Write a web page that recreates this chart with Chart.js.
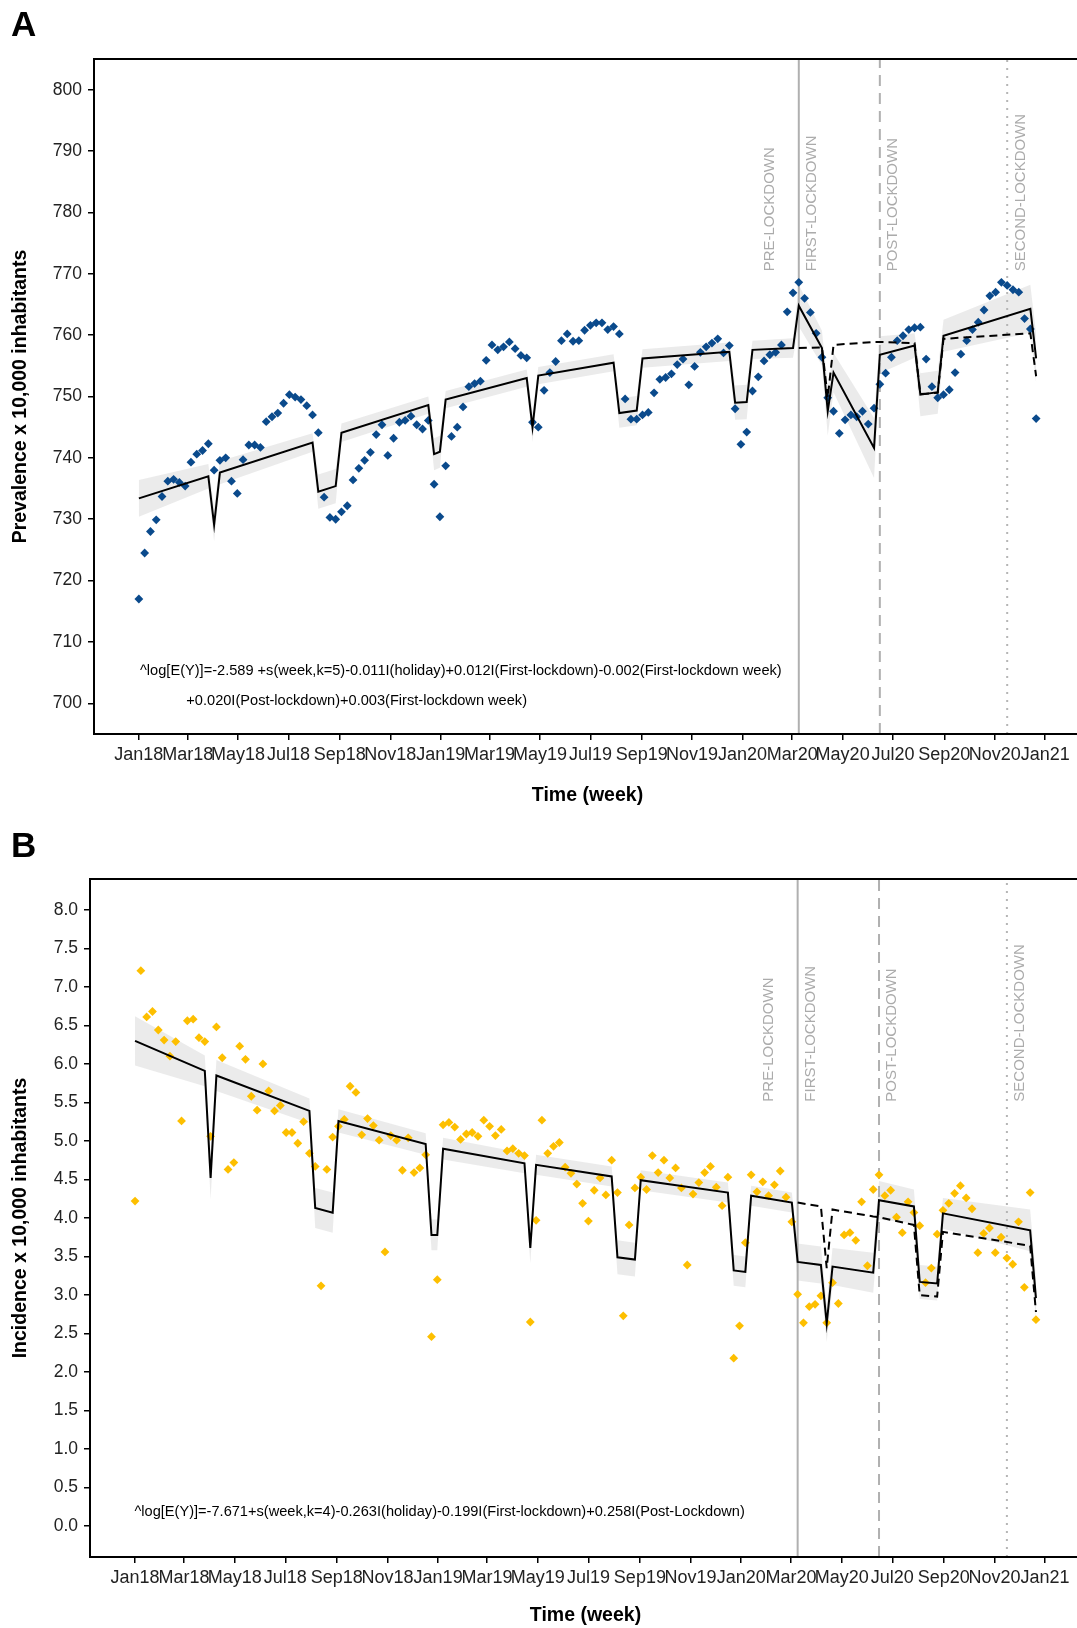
<!DOCTYPE html>
<html lang="en">
<head>
  <meta charset="UTF-8" />
  <title>Prevalence and incidence by week</title>
  <script src="https://cdn.jsdelivr.net/npm/chart.js"></script>
  <style>
    body {
      margin: 0;
      width: 1077px;
      height: 1628px;
      overflow: hidden;
      position: relative;
      background: #fff;
      font-family: "Liberation Sans", Arial, sans-serif;
    }
    canvas {
      position: absolute;
      left: 0;
      display: block;
    }
    #chartA { top: 0; }
    #chartB { top: 815px; }
    .tag {
      position: absolute;
      left: 11px;
      font-size: 35px;
      line-height: 35px;
      font-weight: bold;
    }
  </style>
</head>
<body>
  <canvas id="chartA" width="1100" height="815"></canvas>
  <canvas id="chartB" width="1100" height="813"></canvas>
  <div class="tag" style="top:6px">A</div>
  <div class="tag" style="top:827px">B</div>

  <script>
    // weekly observations, week 0 = first week of Jan 2018
    const prevalence = [
      717.0, 724.5, 728.0, 729.9, 733.7, 736.2, 736.5, 736.0, 735.4, 739.3,
      740.6, 741.2, 742.3, 738.0, 739.6, 740.0, 736.2, 734.2, 739.7, 742.1,
      742.1, 741.7, 745.9, 746.7, 747.3, 748.9, 750.3, 749.9, 749.5, 748.5,
      747.0, 744.1, 733.6, 730.3, 730.0, 731.2, 732.2, 736.4, 738.3, 739.6,
      740.9, 743.8, 745.4, 740.4, 743.2, 745.8, 746.1, 746.8, 745.4, 744.7,
      746.1, 735.7, 730.4, 738.7, 743.5, 745.0, 748.3, 751.6, 752.1, 752.5,
      755.9, 758.4, 757.6, 758.1, 758.9, 757.8, 756.7, 756.3, 745.8, 745.0,
      751.0, 753.9, 755.7, 759.1, 760.2, 759.0, 759.1, 760.8, 761.6, 762.0,
      762.0, 760.9, 761.4, 760.2, 749.6, 746.3, 746.3, 747.0, 747.4, 750.6,
      752.8, 753.1, 753.7, 755.2, 756.1, 751.9, 754.9, 757.2, 758.1, 758.7,
      759.4, 757.1, 758.3, 748.0, 742.2, 744.2, 750.9, 753.2, 755.8, 756.8,
      757.2, 758.4, 763.8, 766.9, 768.6, 766.0, 763.7, 760.3, 756.4, 749.8,
      747.6, 744.0, 746.2, 747.0, 746.7, 747.6, 745.5, 748.1, 752.0, 753.8,
      756.4, 759.1, 759.9, 760.9, 761.2, 761.3, 756.1, 751.6, 749.8, 750.3,
      751.1, 753.9, 756.9, 759.1, 760.9, 762.1, 764.1, 766.4, 767.0, 768.6,
      768.1, 767.4, 767.0, 762.7, 761.0, 746.4
    ];
    const incidence = [
      4.22, 7.21, 6.61, 6.68, 6.44, 6.31, 6.10, 6.29, 5.26, 6.56,
      6.58, 6.34, 6.29, 5.06, 6.48, 6.08, 4.63, 4.72, 6.23, 6.06,
      5.58, 5.40, 6.00, 5.65, 5.39, 5.46, 5.11, 5.11, 4.97, 5.25,
      4.84, 4.67, 3.12, 4.63, 5.05, 5.19, 5.28, 5.71, 5.63, 5.08,
      5.29, 5.20, 5.01, 3.56, 5.07, 5.01, 4.62, 5.04, 4.59, 4.65,
      4.82, 2.46, 3.20, 5.21, 5.24, 5.18, 5.02, 5.09, 5.11, 5.06,
      5.27, 5.19, 5.07, 5.15, 4.87, 4.90, 4.84, 4.81, 2.65, 3.97,
      5.27, 4.84, 4.93, 4.98, 4.66, 4.58, 4.44, 4.19, 3.96, 4.36,
      4.52, 4.30, 4.75, 4.33, 2.73, 3.91, 4.39, 4.53, 4.37, 4.81,
      4.59, 4.75, 4.52, 4.65, 4.39, 3.39, 4.31, 4.46, 4.59, 4.67,
      4.40, 4.16, 4.53, 2.18, 2.60, 3.68, 4.56, 4.34, 4.47, 4.29,
      4.43, 4.61, 4.27, 3.95, 3.01, 2.64, 2.85, 2.88, 2.99, 2.64,
      3.16, 2.89, 3.78, 3.81, 3.71, 4.21, 3.38, 4.37, 4.56, 4.29,
      4.36, 4.01, 3.81, 4.21, 4.07, 3.90, 3.16, 3.35, 3.79, 4.10,
      4.19, 4.32, 4.42, 4.26, 4.12, 3.55, 3.80, 3.87, 3.55, 3.75,
      3.48, 3.40, 3.95, 3.10, 4.33, 2.68
    ];

    // fitted model, read at the weeks where its slope changes
    const fitWeeks = [0, 12, 13, 14, 30, 31, 34, 35, 50, 51, 52, 53, 67, 68, 69, 82, 83, 86,
                      87, 102, 103, 105, 106, 113, 114, 118, 119, 120, 127, 128, 134, 135, 138, 139, 154, 155];
    const fitPrev = [733.4, 737.0, 729.1, 737.6, 742.5, 734.5, 735.4, 744.1, 748.6, 740.6, 741.0, 749.5,
                     753.0, 745.0, 753.4, 755.5, 747.3, 747.7, 756.2, 757.3, 749.0, 749.1, 757.6, 757.9,
                     764.8, 757.9, 747.6, 753.9, 741.6, 756.8, 758.3, 750.3, 750.7, 759.9, 764.3, 756.2];
    const bandPrev = [3.0, 2.0, 2.7, 1.9, 1.5, 2.8, 2.8, 1.5, 1.4, 2.6, 2.6, 1.4, 1.4, 2.4, 1.4, 1.4, 2.4, 2.4,
                      1.5, 1.5, 2.8, 2.8, 1.5, 1.6, 3.4, 2.8, 4.0, 3.2, 4.9, 3.0, 2.0, 3.5, 3.5, 2.6, 3.9, 4.0];
    const fitInc = [6.30, 5.91, 4.52, 5.85, 5.39, 4.13, 4.07, 5.26, 4.96, 3.78, 3.78, 4.90,
                    4.71, 3.61, 4.69, 4.54, 3.49, 3.46, 4.49, 4.33, 3.32, 3.30, 4.29, 4.20,
                    3.43, 3.39, 2.63, 3.37, 3.29, 4.23, 4.15, 3.17, 3.15, 4.06, 3.84, 2.96];
    const bandInc = [0.32, 0.20, 0.28, 0.20, 0.16, 0.26, 0.26, 0.15, 0.14, 0.20, 0.20, 0.14,
                     0.13, 0.20, 0.13, 0.13, 0.22, 0.22, 0.13, 0.13, 0.20, 0.20, 0.13, 0.13,
                     0.24, 0.24, 0.24, 0.24, 0.26, 0.25, 0.22, 0.22, 0.22, 0.20, 0.27, 0.27];

    // counterfactual (no lockdown) curve
    const cfWeeks = [114, 118, 119, 120, 127, 128, 134, 135, 138, 139, 154, 155];
    const cfPrev = [757.9, 758.0, 749.8, 758.4, 758.9, 758.9, 758.7, 750.4, 750.6, 759.4, 760.3, 753.3];
    const cfInc = [4.20, 4.15, 3.35, 4.11, 4.02, 4.01, 3.91, 3.00, 2.98, 3.82, 3.64, 2.78];

    const tickLabels = ['Jan18', 'Mar18', 'May18', 'Jul18', 'Sep18', 'Nov18', 'Jan19', 'Mar19', 'May19',
                        'Jul19', 'Sep19', 'Nov19', 'Jan20', 'Mar20', 'May20', 'Jul20', 'Sep20', 'Nov20', 'Jan21'];
    const tickMonths = [[2018, 0], [2018, 2], [2018, 4], [2018, 6], [2018, 8], [2018, 10],
                        [2019, 0], [2019, 2], [2019, 4], [2019, 6], [2019, 8], [2019, 10],
                        [2020, 0], [2020, 2], [2020, 4], [2020, 6], [2020, 8], [2020, 10], [2021, 0]];
    const yTicksPrev = [700, 710, 720, 730, 740, 750, 760, 770, 780, 790, 800];
    const yTicksInc = [0, 0.5, 1, 1.5, 2, 2.5, 3, 3.5, 4, 4.5, 5, 5.5, 6, 6.5, 7, 7.5, 8];

    const phaseWeeks = [114, 128, 150];
    const phaseLabels = ['PRE-LOCKDOWN', 'FIRST-LOCKDOWN', 'POST-LOCKDOWN', 'SECOND-LOCKDOWN'];
    const phaseLabelWeeks = [109, 116.3, 130.2, 152.3];

    const WEEK_MS = 7 * 24 * 3600 * 1000;
    const tickWeeks = tickMonths.map(([y, m]) => (Date.UTC(y, m, 1) - Date.UTC(2018, 0, 1)) / WEEK_MS);

    const FONT = '"Liberation Sans", Arial, sans-serif';

    const annotate = {
      id: 'annotate',
      afterDraw(chart, args, o) {
        const { ctx, chartArea: a, scales: { x, y } } = chart;
        ctx.save();
        ctx.strokeStyle = '#000';
        ctx.lineWidth = 2;
        ctx.strokeRect(a.left, a.top, a.right - a.left, a.bottom - a.top);

        ctx.fillStyle = '#ababab';
        ctx.font = '15px ' + FONT;
        ctx.textBaseline = 'middle';
        ctx.textAlign = 'left';
        phaseLabels.forEach((t, i) => {
          ctx.save();
          ctx.translate(x.getPixelForValue(phaseLabelWeeks[i]), y.getPixelForValue(o.labelY));
          ctx.rotate(-Math.PI / 2);
          ctx.fillText(t, 0, 0);
          ctx.restore();
        });

        ctx.fillStyle = '#000';
        ctx.font = '14.6px ' + FONT;
        o.formula.forEach(f => {
          ctx.fillText(f.text, x.getPixelForValue(f.x), y.getPixelForValue(f.y));
        });
        ctx.restore();
      }
    };

    function panel(id, p) {
      const pts = p.values.map((v, i) => ({ x: i, y: v }));
      const fit = fitWeeks.map((w, i) => ({ x: w, y: p.fit[i] }));
      const hi = fitWeeks.map((w, i) => ({ x: w, y: p.fit[i] + p.band[i] }));
      const lo = fitWeeks.map((w, i) => ({ x: w, y: p.fit[i] - p.band[i] }));
      const cf = cfWeeks.map((w, i) => ({ x: w, y: p.cf[i] }));

      const lineBase = { pointRadius: 0, fill: false, tension: 0 };
      const vlines = phaseWeeks.map((w, i) => ({
        ...lineBase,
        data: [{ x: w, y: p.yMin }, { x: w, y: p.yMax }],
        borderColor: i === 2 ? '#b5b5b5' : '#b0b0b0',
        borderWidth: 2,
        borderDash: [[], [11, 7], [2, 6]][i],
        order: 2
      }));

      new Chart(document.getElementById(id), {
        type: 'line',
        data: {
          datasets: [
            { ...lineBase, data: fit, borderColor: '#000', borderWidth: 2, order: 0 },
            { ...lineBase, data: cf, borderColor: '#000', borderWidth: 2, borderDash: [8, 5], order: 0 },
            {
              data: pts, showLine: false, pointStyle: 'rectRot', pointRadius: 4.4,
              pointBackgroundColor: p.color, pointBorderWidth: 0, order: 1
            },
            { ...lineBase, data: hi, borderWidth: 0, fill: '+1', backgroundColor: 'rgba(153,153,153,0.2)', order: 3 },
            { ...lineBase, data: lo, borderWidth: 0, order: 3 },
            ...vlines
          ]
        },
        options: {
          responsive: false,
          animation: false,
          events: [],
          layout: { padding: { top: p.top, right: 19, left: 0, bottom: 0 } },
          plugins: {
            legend: { display: false },
            tooltip: { enabled: false },
            annotate: { labelY: p.labelY, formula: p.formula }
          },
          scales: {
            x: {
              type: 'linear',
              min: -7.75,
              max: 162.75,
              afterBuildTicks: s => { s.ticks = tickWeeks.map(v => ({ value: v })); },
              afterFit: s => { s.height = p.xAxisH; },
              ticks: {
                autoSkip: false, maxRotation: 0, padding: 4,
                color: '#222', font: { family: FONT, size: 18 },
                callback: (v, i) => tickLabels[i]
              },
              grid: { drawOnChartArea: false, tickLength: 6, color: '#000', lineWidth: 1.5 },
              border: { display: false },
              title: {
                display: true, text: 'Time (week)', color: '#000',
                font: { family: FONT, size: 19.5, weight: 'bold' },
                padding: { top: 0, bottom: p.xTitlePad }
              }
            },
            y: {
              min: p.yMin,
              max: p.yMax,
              afterBuildTicks: s => { s.ticks = p.yTicks.map(v => ({ value: v })); },
              afterFit: s => { s.width = p.axisLeft; },
              ticks: {
                padding: 6, color: '#222', font: { family: FONT, size: 17.5 },
                callback: v => v.toFixed(p.digits)
              },
              grid: { drawOnChartArea: false, tickLength: 6, color: '#000', lineWidth: 1.5 },
              border: { display: false },
              title: {
                display: true, text: p.yTitle, color: '#000',
                font: { family: FONT, size: 19.5, weight: 'bold' },
                padding: { top: 9, bottom: 0 }
              }
            }
          }
        },
        plugins: [annotate]
      });
    }

    panel('chartA', {
      values: prevalence, fit: fitPrev, band: bandPrev, cf: cfPrev,
      color: '#0a4a8c', yMin: 695, yMax: 805, yTicks: yTicksPrev, digits: 0,
      yTitle: 'Prevalence x 10,000 inhabitants',
      top: 59, axisLeft: 94, xAxisH: 81, xTitlePad: 8,
      labelY: 770.4,
      formula: [
        { x: 0.2, y: 705.3, text: '^log[E(Y)]=-2.589 +s(week,k=5)-0.011I(holiday)+0.012I(First-lockdown)-0.002(First-lockdown week)' },
        { x: 8.2, y: 700.4, text: '+0.020I(Post-lockdown)+0.003(First-lockdown week)' }
      ]
    });

    panel('chartB', {
      values: incidence, fit: fitInc, band: bandInc, cf: cfInc,
      color: '#fdbf00', yMin: -0.4, yMax: 8.4, yTicks: yTicksInc, digits: 1,
      yTitle: 'Incidence x 10,000 inhabitants',
      top: 64, axisLeft: 90, xAxisH: 71, xTitlePad: 1,
      labelY: 5.51,
      formula: [
        { x: -0.1, y: 0.186, text: '^log[E(Y)]=-7.671+s(week,k=4)-0.263I(holiday)-0.199I(First-lockdown)+0.258I(Post-Lockdown)' }
      ]
    });
  </script>
</body>
</html>
